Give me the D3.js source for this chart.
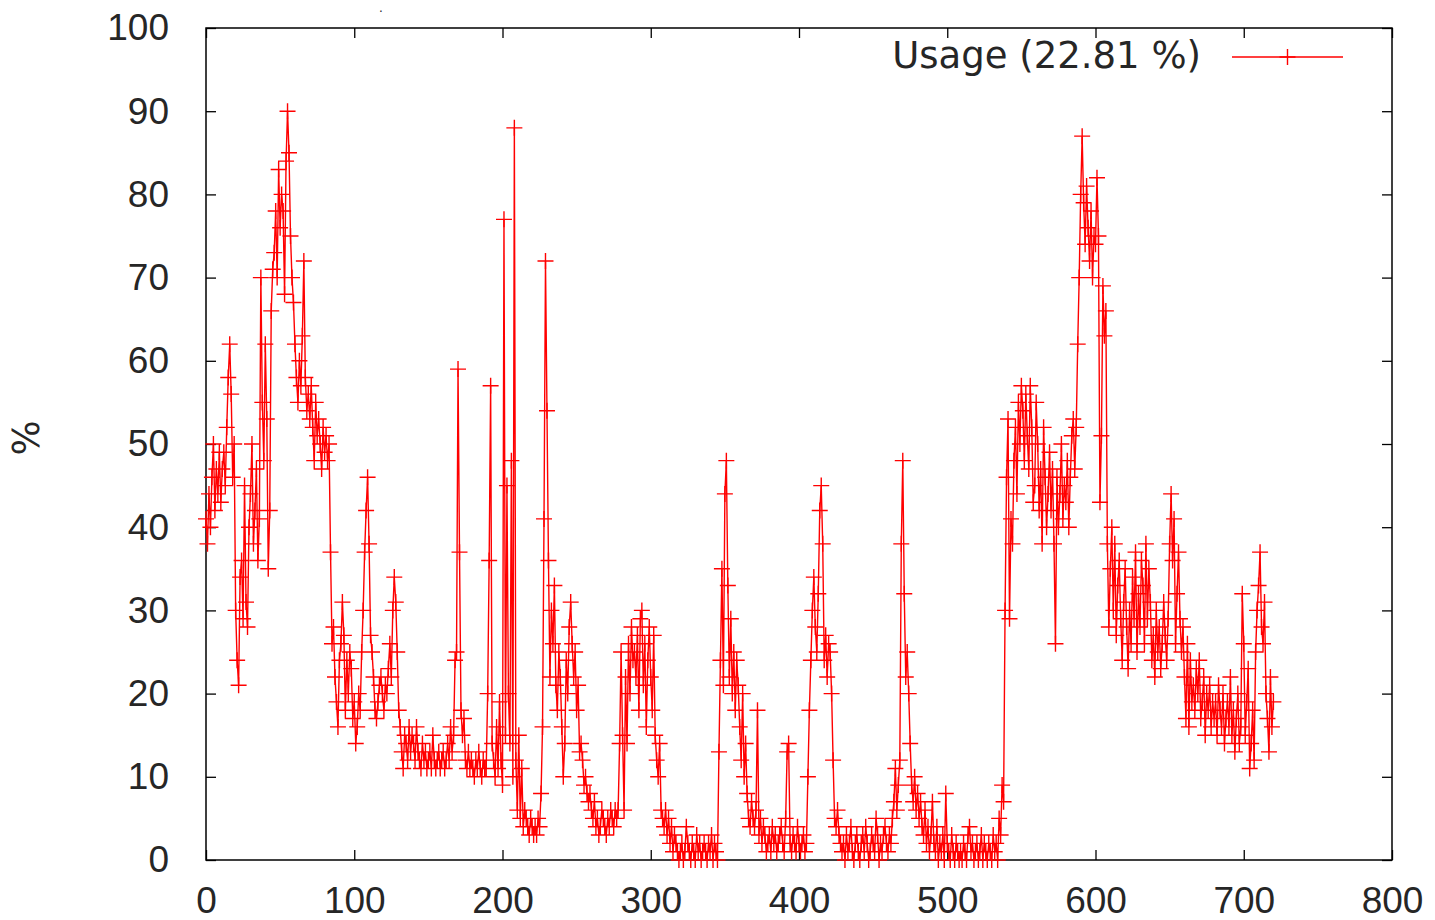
<!DOCTYPE html>
<html>
<head>
<meta charset="utf-8">
<script src="https://cdn.jsdelivr.net/npm/d3@7"></script>
<style>
  body { margin: 0; background: #fff; }
  svg { display: block; font-family: "DejaVu Sans", sans-serif; }
</style>
</head>
<body>
<svg id="chart" width="1435" height="920"></svg>
<script>
// usage samples, one per x step (0..720)
const usage = [
  41,38,44,40,46,50,42,47,44,49,
  43,47,49,45,52,58,62,56,46,50,
  30,24,21,34,36,29,45,31,28,40,
  44,50,38,42,47,36,41,70,55,48,
  62,53,35,42,66,71,73,78,70,83,
  76,80,78,68,84,90,85,75,70,67,
  62,58,55,60,57,63,72,58,54,56,
  53,57,52,48,55,51,53,50,47,52,
  49,51,48,50,37,26,28,22,19,16,
  24,26,31,27,18,24,20,25,23,17,
  19,14,16,20,18,25,30,37,42,46,
  38,27,25,22,18,17,19,21,22,20,
  18,21,20,23,26,22,30,34,31,25,
  18,16,13,11,15,14,12,16,13,15,
  14,12,16,13,12,11,14,12,13,11,
  12,13,11,15,12,11,12,13,11,12,
  13,11,12,14,12,16,13,15,24,25,
  59,37,18,15,17,12,11,13,11,12,
  11,10,12,11,13,11,10,12,11,11,
  20,36,57,14,12,10,16,11,19,12,
  9,77,15,45,20,14,48,10,88,12,
  6,15,5,11,4,6,5,4,3,5,
  4,3,4,3,5,4,8,16,41,72,
  54,36,22,30,26,33,21,18,25,22,
  16,10,14,24,20,28,31,26,22,25,
  18,21,13,14,12,9,10,8,7,8,
  6,5,7,4,5,3,4,6,5,4,
  3,5,4,6,5,4,6,5,6,14,
  25,15,6,22,14,26,20,28,24,25,
  22,27,18,29,30,21,26,16,24,28,
  22,18,27,15,12,10,14,6,5,4,
  6,3,5,2,4,1,3,2,1,0,
  1,2,0,1,4,2,1,0,2,1,
  0,3,1,2,0,1,2,1,0,2,
  1,3,0,2,1,0,13,24,35,21,
  44,48,33,22,29,20,25,18,24,21,
  16,12,20,10,14,8,5,4,7,5,
  4,6,18,3,5,2,4,3,1,2,
  3,1,4,2,3,1,2,3,4,2,
  1,5,13,14,2,1,3,2,1,4,
  2,1,2,3,1,2,10,18,24,30,
  34,28,25,32,42,45,38,24,27,22,
  26,25,20,12,5,4,6,3,2,1,
  2,0,3,1,2,4,1,0,2,3,
  1,0,2,3,1,4,2,0,1,3,
  2,1,5,3,0,2,1,3,4,2,
  1,3,2,5,7,11,6,9,12,38,
  48,32,22,25,20,14,9,7,10,6,
  8,5,7,4,3,6,2,4,1,3,
  7,2,1,4,0,2,1,3,0,8,
  2,1,0,3,1,0,2,1,0,1,
  0,2,1,0,3,4,1,2,0,1,
  2,0,1,3,0,2,1,0,2,1,
  0,3,1,2,0,5,3,9,7,30,
  46,53,29,41,38,48,52,44,55,50,
  57,54,48,56,51,47,57,52,43,45,
  55,50,42,47,38,52,46,40,44,49,
  42,47,38,26,46,40,44,50,41,45,
  43,48,40,46,51,53,47,52,62,70,
  80,87,79,74,81,76,72,78,70,75,
  74,82,75,43,51,69,63,66,38,28,
  35,40,30,38,27,33,36,29,24,31,
  35,28,23,30,26,34,29,37,25,32,
  28,36,33,26,38,29,35,31,24,27,
  22,30,25,28,23,26,31,27,24,29,
  38,44,36,41,26,32,37,29,25,28,
  22,17,26,16,24,19,21,18,23,20,
  24,17,19,22,15,20,18,21,16,19,
  17,19,15,21,18,16,20,14,17,19,
  16,22,15,18,13,17,20,14,16,32,
  26,15,19,23,11,14,18,12,25,30,
  33,37,28,26,31,20,17,13,22,16,
  19
];
const xTicks = [0, 100, 200, 300, 400, 500, 600, 700, 800];
const yTicks = [0, 10, 20, 30, 40, 50, 60, 70, 80, 90, 100];
const legendLabel = 'Usage (22.81 %)';
const yLabel = '%';

const svg = d3.select('#chart');
const plotLeft = 206, plotRight = 1392, plotTop = 28, plotBottom = 860;
const red = '#ff0000';
const ink = '#262626';
const fontSize = '37px';

// scales
const x = d3.scaleLinear().domain([0, 800]).range([plotLeft, plotRight]);
const y = d3.scaleLinear().domain([0, 100]).range([plotBottom, plotTop]);

// axes with inward ticks, mirrored on top / right
const styleAxis = g => {
  g.select('.domain').remove();
  g.selectAll('line').attr('stroke', '#000').attr('stroke-width', 1.3);
  g.selectAll('text').attr('fill', ink).style('font-size', fontSize);
};
svg.append('g').attr('transform', `translate(${plotLeft},0)`)
  .call(d3.axisLeft(y).tickValues(yTicks).tickSize(-10).tickPadding(37))
  .call(styleAxis);
svg.append('g').attr('transform', `translate(${plotRight},0)`)
  .call(d3.axisRight(y).tickValues(yTicks).tickSize(-10).tickFormat(''))
  .call(styleAxis);
svg.append('g').attr('transform', `translate(0,${plotBottom})`)
  .call(d3.axisBottom(x).tickValues(xTicks).tickSize(-10).tickPadding(27))
  .call(styleAxis);
svg.append('g').attr('transform', `translate(0,${plotTop})`)
  .call(d3.axisTop(x).tickValues(xTicks).tickSize(-10).tickFormat(''))
  .call(styleAxis);

// frame
svg.append('rect')
  .attr('x', plotLeft).attr('y', plotTop)
  .attr('width', plotRight - plotLeft).attr('height', plotBottom - plotTop)
  .attr('fill', 'none').attr('stroke', '#000').attr('stroke-width', 1.5);

// y label
svg.append('text')
  .attr('transform', 'translate(39,438) rotate(-90)')
  .attr('text-anchor', 'middle')
  .attr('fill', ink).style('font-size', fontSize)
  .text(yLabel);

// stray title dot
svg.append('text')
  .attr('x', 379).attr('y', 12)
  .attr('fill', ink).style('font-size', '12px')
  .text('.');

// series line
const line = d3.line().x((d, i) => x(i)).y(d => y(d));
svg.append('path')
  .datum(usage)
  .attr('d', line)
  .attr('fill', 'none')
  .attr('stroke', red)
  .attr('stroke-width', 1.4);

// plus markers
const plus = (cx, cy, s) => `M${cx - s},${cy}H${cx + s}M${cx},${cy - s}V${cy + s}`;
svg.append('path')
  .attr('d', usage.map((d, i) => plus(x(i), y(d), 8)).join(''))
  .attr('fill', 'none')
  .attr('stroke', red)
  .attr('stroke-width', 1.4);

// legend
svg.append('text')
  .attr('x', 1201).attr('y', 68)
  .attr('text-anchor', 'end')
  .attr('fill', ink).style('font-size', fontSize)
  .text(legendLabel);
svg.append('line')
  .attr('x1', 1232).attr('x2', 1343).attr('y1', 57).attr('y2', 57)
  .attr('stroke', red).attr('stroke-width', 1.4);
svg.append('path')
  .attr('d', plus(1287.5, 57, 8))
  .attr('stroke', red).attr('stroke-width', 1.4);
</script>
</body>
</html>
